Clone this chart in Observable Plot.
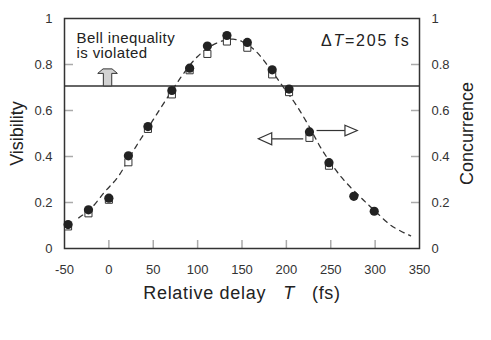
<!DOCTYPE html>
<html><head><meta charset="utf-8">
<script src="https://cdn.jsdelivr.net/npm/d3@7"></script>
<script src="https://cdn.jsdelivr.net/npm/@observablehq/plot@0.6"></script>
<style>body{margin:0;background:#fff}</style>
</head><body><div id="chart"></div>
<script>
// Visibility (filled circles)
const delayVis = [-46, -23, 0, 22, 44, 71, 91, 111, 133, 156, 184, 203, 226, 248, 276, 299];
const visibility = [0.104, 0.168, 0.219, 0.403, 0.530, 0.687, 0.784, 0.880, 0.926, 0.896, 0.777, 0.693, 0.507, 0.373, 0.227, 0.162];
// Concurrence (open squares)
const delayConc = [-46, -23, 0, 22, 44, 71, 91, 111, 133, 156, 184, 203, 226, 248];
const concurrence = [0.096, 0.153, 0.212, 0.375, 0.52, 0.67, 0.775, 0.846, 0.90, 0.873, 0.757, 0.68, 0.481, 0.36];
// Dashed theoretical curve
const fitDelay = [-34, -20, -5, 10, 30, 50, 70, 85, 100, 115, 130, 140, 150, 165, 180, 195, 210, 225, 240, 262, 287, 300, 318, 340];
const fitValue = [0.133, 0.175, 0.245, 0.31, 0.44, 0.56, 0.68, 0.765, 0.835, 0.88, 0.905, 0.91, 0.90, 0.86, 0.79, 0.71, 0.63, 0.535, 0.43, 0.31, 0.21, 0.163, 0.10, 0.055];
// Ticks
const xTicks = [-50, 0, 50, 100, 150, 200, 250, 300, 350];
const yTicks = [0, 0.2, 0.4, 0.6, 0.8, 1];
const bellLimit = [0.707];

const visData = delayVis.map((t, i) => ({t, v: visibility[i]}));
const concData = delayConc.map((t, i) => ({t, v: concurrence[i]}));
const fitData = fitDelay.map((t, i) => ({t, v: fitValue[i]}));

const tickUp = {draw(c){ c.moveTo(0,0); c.lineTo(0,-8.5); }};
const tickIn = {draw(c){ c.moveTo(0,0); c.lineTo(8.5,0); }};
const tickInR = {draw(c){ c.moveTo(0,0); c.lineTo(-8.5,0); }};
const blockArrow = {draw(c){
  c.moveTo(-4.2,0); c.lineTo(-4.2,-12.5); c.lineTo(-9.8,-12.5); c.lineTo(-4.5,-17);
  c.lineTo(4.5,-17); c.lineTo(9.8,-12.5); c.lineTo(4.2,-12.5); c.lineTo(4.2,0); c.closePath();
}};
const triLeft = {draw(c){ c.moveTo(0,-6); c.lineTo(-13.4,0); c.lineTo(0,6); c.closePath(); }};
const triRight = {draw(c){ c.moveTo(0,-5.3); c.lineTo(12.3,0); c.lineTo(0,5.3); c.closePath(); }};

const fmt = d => String(d);
const ink = "#333";
const one = [0];

const plot = Plot.plot({
  width: 491, height: 340,
  marginLeft: 64, marginRight: 72, marginTop: 18, marginBottom: 92,
  style: {fontFamily: "'Liberation Sans', Arial, sans-serif", background: "#fff"},
  x: {domain: [-50, 350]},
  y: {domain: [0, 1]},
  marks: [
    Plot.axisY({ticks: yTicks, tickFormat: fmt, tickSize: 0, tickPadding: 12, fontSize: 13, fill: ink, label: null}),
    Plot.axisY({anchor: "right", ticks: yTicks, tickFormat: fmt, tickSize: 0, tickPadding: 12, fontSize: 13, fill: ink, label: null}),
    Plot.axisX({ticks: xTicks, tickFormat: fmt, tickSize: 0, tickPadding: 16, fontSize: 13, fill: ink, label: null}),
    Plot.dot(xTicks.slice(1, -1), {x: d => d, y: () => 0, symbol: tickUp, stroke: "#aaa", strokeWidth: 1.5, fill: "none"}),
    Plot.dot(yTicks.slice(1, -1), {x: () => -50, y: d => d, symbol: tickIn, stroke: "#aaa", strokeWidth: 1.5, fill: "none"}),
    Plot.dot(yTicks.slice(1, -1), {x: () => 350, y: d => d, symbol: tickInR, stroke: "#aaa", strokeWidth: 1.5, fill: "none"}),
    Plot.frame({stroke: ink, strokeWidth: 1.5}),
    Plot.ruleY(bellLimit, {stroke: ink, strokeWidth: 1.5}),
    Plot.dot(one, {x: () => -1.5, y: () => bellLimit[0], symbol: blockArrow, fill: "#d2d2d2", stroke: ink, strokeWidth: 1}),
    Plot.line(fitData, {x: "t", y: "v", curve: "catmull-rom", stroke: ink, strokeWidth: 1.3, strokeDasharray: "5,5"}),
    Plot.dot(concData, {x: "t", y: "v", symbol: "square", r: 4, fill: "#fff", stroke: ink, strokeWidth: 1}),
    Plot.dot(visData, {x: "t", y: "v", r: 4.6, fill: "#222", stroke: "none"}),
    // direction arrows
    Plot.link(one, {x1: () => 219, x2: () => 183.5, y1: () => 0.477, y2: () => 0.477, stroke: ink, strokeWidth: 1.2}),
    Plot.dot(one, {x: () => 183.5, y: () => 0.477, symbol: triLeft, fill: "#fff", stroke: ink, strokeWidth: 1.2}),
    Plot.link(one, {x1: () => 234, x2: () => 266, y1: () => 0.513, y2: () => 0.513, stroke: ink, strokeWidth: 1.2}),
    Plot.dot(one, {x: () => 266, y: () => 0.513, symbol: triRight, fill: "#fff", stroke: ink, strokeWidth: 1.2}),
    // texts
    Plot.text(["Bell inequality\nis violated"], {text: d => d, frameAnchor: "top-left", dx: 12, dy: 13, lineAnchor: "top", textAnchor: "start", fontSize: 15, lineHeight: 1.05, fill: "#222"}),
    Plot.text(["ΔT=205 fs"], {text: d => d, frameAnchor: "top-right", dx: -9, dy: 16.5, lineAnchor: "top", textAnchor: "end", fontSize: 16, fill: "#222"}),
    Plot.text(["Relative delay   T   (fs)"], {text: d => d, frameAnchor: "bottom", dy: 50, lineAnchor: "bottom", textAnchor: "middle", fontSize: 18, fill: "#222"}),
    Plot.text(["Visibility"], {text: d => d, frameAnchor: "left", dx: -47, rotate: -90, lineAnchor: "middle", textAnchor: "middle", fontSize: 18, fill: "#222"}),
    Plot.text(["Concurrence"], {text: d => d, frameAnchor: "right", dx: 48, rotate: -90, lineAnchor: "middle", textAnchor: "middle", fontSize: 18, fill: "#222"})
  ]
});
document.getElementById("chart").appendChild(plot);

d3.select(plot).selectAll("text").each(function() {
  const s = this.textContent, t = d3.select(this);
  if (s === "Relative delay   T   (fs)") {
    t.text(null).style("white-space", "pre").style("letter-spacing", "0.7px");
    t.append("tspan").text("Relative delay   ");
    t.append("tspan").attr("font-style", "italic").text("T");
    t.append("tspan").text("   (fs)");
  } else if (s === "ΔT=205 fs") {
    t.text(null).style("letter-spacing", "1.8px");
    t.append("tspan").text("Δ");
    t.append("tspan").attr("font-style", "italic").text("T");
    t.append("tspan").text("=205 fs");
  } else if (s.startsWith("Bell inequality")) {
    t.style("letter-spacing", "0.4px");
  }
});
</script>
</body></html>
